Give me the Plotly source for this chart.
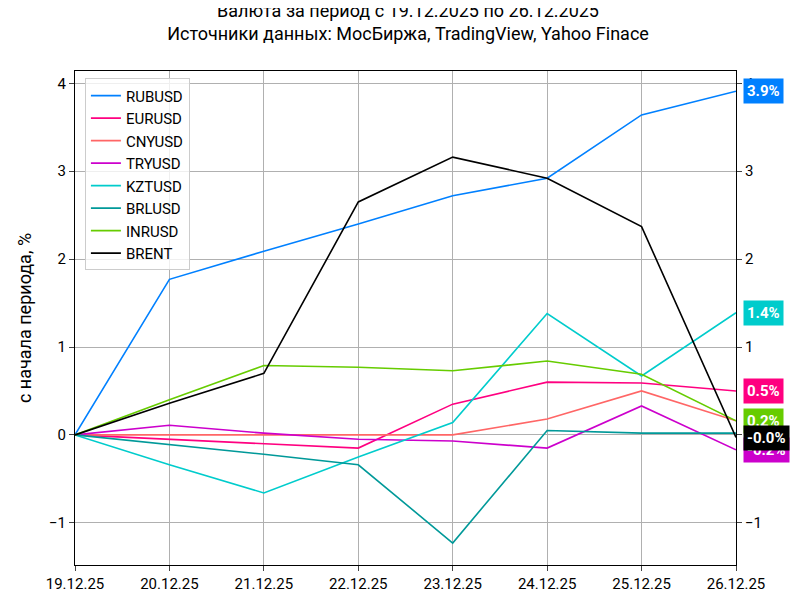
import plotly.graph_objects as go

dates = ["19.12.25","20.12.25","21.12.25","22.12.25","23.12.25","24.12.25","25.12.25","26.12.25"]
names = ["RUBUSD","EURUSD","CNYUSD","TRYUSD","KZTUSD","BRLUSD","INRUSD","BRENT"]
colors = ["#0080ff","#ff0080","#ff6666","#cc00cc","#00cccc","#009999","#66cc00","#000000"]
rub = [0, 1.77, 2.09, 2.40, 2.72, 2.92, 3.64, 3.91]
eur = [0, -0.05, -0.10, -0.15, 0.35, 0.60, 0.59, 0.50]
cny = [0, 0.0, 0.0, 0.0, 0.0, 0.18, 0.50, 0.16]
tr = [0, 0.11, 0.02, -0.05, -0.07, -0.15, 0.33, -0.17]
kzt = [0, -0.34, -0.66, -0.25, 0.14, 1.38, 0.67, 1.39]
brl = [0, -0.11, -0.22, -0.34, -1.23, 0.05, 0.02, 0.02]
inr = [0, 0.40, 0.79, 0.77, 0.73, 0.84, 0.69, 0.16]
brent = [0, 0.36, 0.70, 2.65, 3.16, 2.92, 2.37, -0.03]
series = [rub, eur, cny, tr, kzt, brl, inr, brent]
labeled = ["RUBUSD","KZTUSD","EURUSD","INRUSD","TRYUSD","BRENT"]

fig = go.Figure()
for n, c, s in zip(names, colors, series):
    fig.add_trace(go.Scatter(x=list(range(len(dates))), y=s, name=n, mode="lines",
                             line=dict(color=c, width=1.6)))
fig.add_trace(go.Scatter(x=[0], y=[0], yaxis="y2", showlegend=False, mode="lines",
                         line=dict(width=0), hoverinfo="skip"))
for n, c, s in zip(names, colors, series):
    if n in labeled:
        fig.add_annotation(x=1.0, xref="paper", y=s[-1], yref="y", xanchor="left",
                           xshift=7, text=f"<b>{s[-1]:.1f}%</b>", showarrow=False, bgcolor=c,
                           font=dict(color="white", size=15), borderpad=3)

yr = [-1.48, 4.14]
fig.update_layout(
    width=800, height=600, plot_bgcolor="white", paper_bgcolor="white",
    font=dict(family="Roboto", size=15, color="black"),
    title=dict(text="Валюта за период с 19.12.2025 по 26.12.2025<br>Источники данных: МосБиржа, TradingView, Yahoo Finace",
               x=0.5, xanchor="center", y=0.985, yanchor="top", font=dict(size=18), automargin=False),
    margin=dict(l=67, r=72, t=63, b=43, autoexpand=False),
    xaxis=dict(tickvals=list(range(len(dates))), ticktext=dates, range=[0, 7],
               showgrid=True, gridcolor="#b0b0b0", ticks="outside", showline=True,
               linecolor="black", mirror=True, zeroline=False, automargin=False),
    yaxis=dict(range=yr, dtick=1, showgrid=True, gridcolor="#b0b0b0", ticks="outside",
               showline=True, linecolor="black", zeroline=False, automargin=False,
               title=dict(text="с начала периода, %", standoff=12)),
    yaxis2=dict(range=yr, dtick=1, overlaying="y", side="right", ticks="outside",
                showgrid=False, zeroline=False, showline=True, linecolor="black", automargin=False),
    legend=dict(x=0.015, y=0.985, xanchor="left", yanchor="top", bgcolor="rgba(255,255,255,0.8)",
                bordercolor="#cccccc", borderwidth=1, font=dict(size=15)),
)
fig.write_html("out.html")
